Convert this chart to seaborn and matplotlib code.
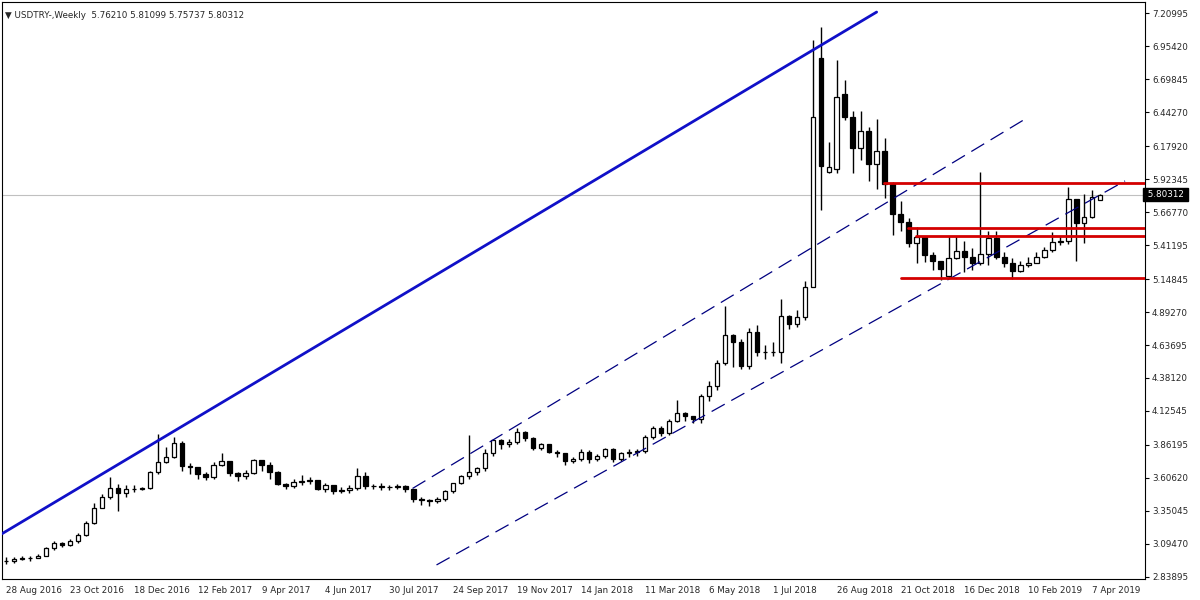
import matplotlib
matplotlib.use("Agg")
import matplotlib.pyplot as plt
import seaborn as sns
import numpy as np
import pandas as pd

closes = [2.966,2.976,2.985,2.983,3.005,3.063,3.101,3.09,3.114,3.166,3.257,3.374,3.46,3.53,3.486,3.517,3.524,3.527,3.651,3.733,
 3.772,3.88,3.698,3.69,3.634,3.616,3.71,3.735,3.641,3.62,3.647,3.743,3.71,3.65,3.563,3.543,3.577,3.58,3.59,3.517,
 3.55,3.503,3.51,3.53,3.62,3.543,3.543,3.54,3.535,3.543,3.524,3.444,3.433,3.425,3.446,3.503,3.569,3.62,3.65,3.68,
 3.797,3.898,3.872,3.888,3.966,3.914,3.836,3.867,3.81,3.797,3.737,3.756,3.81,3.75,3.776,3.828,3.75,3.797,3.807,3.815,
 3.927,3.997,3.953,4.049,4.107,4.083,4.06,4.239,4.317,4.498,4.716,4.659,4.472,4.737,4.582,4.586,4.582,4.862,4.802,4.854,
 5.088,6.405,6.023,6.015,6.561,6.405,6.166,6.296,6.041,6.14,5.885,5.654,5.594,5.425,5.472,5.334,5.29,5.223,5.308,5.369,
 5.316,5.275,5.34,5.465,5.322,5.275,5.213,5.257,5.275,5.322,5.373,5.438,5.446,5.769,5.581,5.626,5.782,5.80312]
highs = [2.99,2.99,3.00,3.00,3.02,3.07,3.12,3.11,3.13,3.18,3.27,3.41,3.48,3.61,3.56,3.55,3.55,3.54,3.66,3.95,
 3.85,3.92,3.89,3.72,3.67,3.65,3.73,3.80,3.74,3.65,3.67,3.75,3.74,3.73,3.66,3.57,3.60,3.63,3.61,3.59,
 3.57,3.52,3.54,3.55,3.68,3.65,3.56,3.57,3.55,3.56,3.55,3.52,3.46,3.44,3.46,3.51,3.57,3.63,3.94,3.69,
 3.83,3.91,3.91,3.91,3.99,3.97,3.92,3.88,3.87,3.82,3.80,3.77,3.83,3.82,3.79,3.84,3.84,3.81,3.83,3.83,
 3.94,4.01,4.01,4.06,4.21,4.12,4.09,4.26,4.36,4.52,4.94,4.72,4.68,4.77,4.79,4.64,4.66,4.99,4.87,4.91,
 5.13,7.00,7.10,6.21,6.85,6.69,6.45,6.45,6.33,6.39,6.24,5.90,5.75,5.62,5.55,5.48,5.36,5.29,5.48,5.48,
 5.44,5.39,5.98,5.52,5.52,5.36,5.31,5.29,5.32,5.36,5.40,5.51,5.48,5.86,5.77,5.81,5.84,5.81099]
lows = [2.94,2.95,2.97,2.96,2.99,3.00,3.05,3.07,3.08,3.10,3.16,3.25,3.37,3.44,3.35,3.46,3.50,3.51,3.52,3.64,
 3.72,3.76,3.66,3.64,3.60,3.59,3.60,3.70,3.62,3.58,3.60,3.64,3.66,3.60,3.55,3.52,3.53,3.55,3.56,3.51,
 3.50,3.48,3.49,3.49,3.51,3.52,3.52,3.51,3.51,3.52,3.50,3.42,3.40,3.39,3.41,3.43,3.49,3.56,3.60,3.63,
 3.66,3.78,3.83,3.85,3.87,3.89,3.82,3.82,3.80,3.77,3.71,3.72,3.74,3.72,3.74,3.76,3.73,3.74,3.77,3.78,
 3.80,3.91,3.93,3.94,4.04,4.05,4.03,4.03,4.20,4.29,4.48,4.47,4.45,4.45,4.55,4.53,4.55,4.50,4.76,4.78,
 4.83,5.09,5.68,5.97,5.97,6.38,5.97,6.07,5.91,5.85,5.78,5.49,5.52,5.40,5.27,5.28,5.22,5.14,5.16,5.30,
 5.20,5.22,5.26,5.26,5.30,5.24,5.15,5.20,5.24,5.28,5.31,5.36,5.41,5.42,5.29,5.43,5.62,5.75737]
open_overrides = {0: 2.96, 102: 6.86, 103: 5.978, 104: 6.00, 105: 6.58, 118: 5.171, 137: 5.76210}

date_labels = ["28 Aug 2016","23 Oct 2016","18 Dec 2016","12 Feb 2017","9 Apr 2017","4 Jun 2017","30 Jul 2017",
 "24 Sep 2017","19 Nov 2017","14 Jan 2018","11 Mar 2018","6 May 2018","1 Jul 2018","26 Aug 2018",
 "21 Oct 2018","16 Dec 2018","10 Feb 2019","7 Apr 2019"]
price_ticks = [7.20995,6.95420,6.69845,6.44270,6.17920,5.92345,5.66770,5.41195,5.14845,4.89270,
 4.63695,4.38120,4.12545,3.86195,3.60620,3.35045,3.09470,2.83895]

# trend lines: (week, price)
blue_line = ([-0.5, 109.0], [3.174, 7.218])
upper_dash = ([50.9, 127.9], [3.525, 6.40])
lower_dash = ([53.9, 140.1], [2.932, 5.909])
red_levels = [(109.9, 5.893), (112.9, 5.543), (113.9, 5.483), (112.0, 5.153)]
last_price = 5.80312

sns.set_style("white")
plt.rcParams['font.family'] = ['DejaVu Sans']

n = len(closes)
opens = [open_overrides.get(i, closes[i-1] if i > 0 else closes[0]) for i in range(n)]
df = pd.DataFrame({"week": np.arange(n), "open": opens, "high": highs, "low": lows, "close": closes})

fig = plt.figure(figsize=(12, 6), dpi=100)
ax = fig.add_axes([2/1200, 21/600, 1143/1200, 577/600])
xmax = 142.6
ax.set_xlim(-0.5, xmax)
ax.set_ylim(2.823, 7.296)

ax.axhline(last_price, color="#c0c0c0", lw=0.8, zorder=0)

ax.vlines(df.week, df.low, df.high, color="black", lw=1, zorder=2)
bottom = np.minimum(df.open, df.close)
height = np.maximum(np.abs(df.close - df.open), 0.004)
up = df.close >= df.open
ax.bar(df.week[up], height[up], bottom=bottom[up], width=0.55, color="white", edgecolor="black", lw=0.9, zorder=3)
ax.bar(df.week[~up], height[~up], bottom=bottom[~up], width=0.55, color="black", edgecolor="black", lw=0.9, zorder=3)

sns.lineplot(x=blue_line[0], y=blue_line[1], ax=ax, color="#1010c8", lw=2, zorder=4)
sns.lineplot(x=upper_dash[0], y=upper_dash[1], ax=ax, color="#000080", lw=0.9, zorder=4, linestyle=(0, (12, 6)))
sns.lineplot(x=lower_dash[0], y=lower_dash[1], ax=ax, color="#000080", lw=0.9, zorder=4, linestyle=(0, (12, 6)))
for x0, p in red_levels:
    ax.plot([x0, xmax], [p, p], color="#d40000", lw=2, zorder=5)

ax.set_xticks(np.arange(0, 8 * len(date_labels), 8))
ax.set_xticklabels(date_labels, fontsize=6.3, ha="left")
ax.yaxis.tick_right()
ax.set_yticks(price_ticks)
ax.set_yticklabels([f"{p:.5f}" for p in price_ticks], fontsize=6.3)
ax.tick_params(axis="both", length=3, width=0.8, color="black", direction="out", pad=2)
for s in ax.spines.values():
    s.set_color("black"); s.set_linewidth(0.8)
ax.set_xlabel(""); ax.set_ylabel("")

ax.text(1.0, last_price, f" {last_price:.5f} ", transform=ax.get_yaxis_transform(), fontsize=6.3,
        color="white", va="center", ha="left", bbox=dict(facecolor="black", edgecolor="black", pad=1.2), clip_on=False)
ax.text(0.003, 0.985, "\u25bc USDTRY-,Weekly  5.76210 5.81099 5.75737 5.80312", transform=ax.transAxes,
        fontsize=6.3, va="top", ha="left")

fig.savefig("out.png", dpi=100)
